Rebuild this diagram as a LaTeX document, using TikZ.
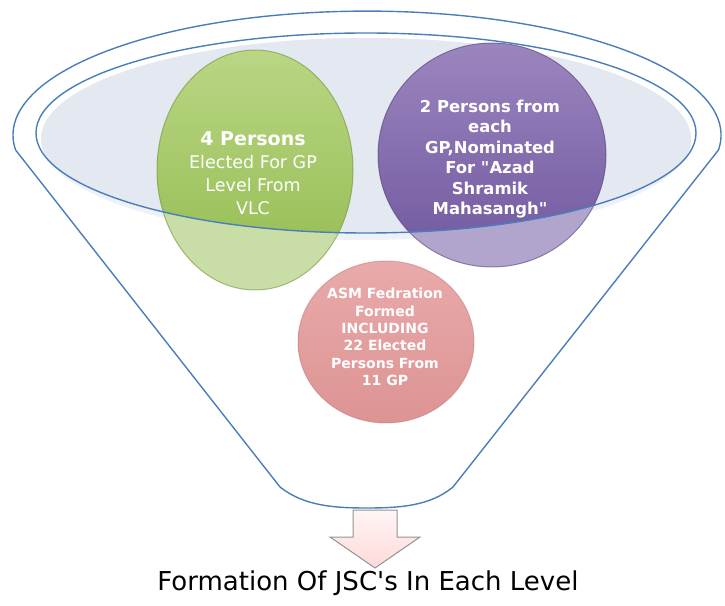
\documentclass[tikz,border=0pt]{standalone}
\usepackage{fontspec}
\setsansfont{DejaVu Sans}
\usepackage{xcolor}
\usepackage{tikz}

\definecolor{funnelblue}{HTML}{4A7EBB}
\definecolor{bowlgray}{HTML}{EEF2F8}
\definecolor{bowlinner}{HTML}{E3E8F1}
\definecolor{vlcgreen}{HTML}{A8CC66}
\definecolor{vlcgreendark}{HTML}{92BA4E}
\definecolor{vlcgreenlite}{HTML}{C9DDA6}
\definecolor{asmpurple}{HTML}{8A70B3}
\definecolor{asmpurpledark}{HTML}{6F579E}
\definecolor{asmpurplelite}{HTML}{B2A5CD}
\definecolor{fedpink}{HTML}{E9AAAA}
\definecolor{fedpinkdark}{HTML}{DD9393}

\tikzset{
  funnel/.style={draw=funnelblue, line width=1.4pt},
  bubbletext/.style={text=white, align=center, font=\sffamily\bfseries},
}

\begin{document}
\begin{tikzpicture}[x=1pt, y=1pt]
\useasboundingbox (0,0) rectangle (725,605);

% bowl of the funnel
\fill[bowlgray] (366,466) ellipse [x radius=325pt, y radius=101pt];
\begin{scope}
  \clip (366,466) ellipse [x radius=325pt, y radius=101pt];
  \fill[bowlinner] (366,472) ellipse [x radius=330pt, y radius=100pt];
\end{scope}

% green and purple bubbles, darker inside the bowl
\fill[vlcgreenlite] (255,435) ellipse [x radius=98pt, y radius=120pt];
\fill[asmpurplelite] (492,450) ellipse [x radius=114pt, y radius=112pt];
\begin{scope}
  \clip (366,472) ellipse [x radius=330pt, y radius=100pt];
  \shade[top color=vlcgreen!80!white, bottom color=vlcgreendark] (255,435) ellipse [x radius=98pt, y radius=120pt];
  \shade[top color=asmpurple!85!white, bottom color=asmpurpledark] (492,450) ellipse [x radius=114pt, y radius=112pt];
\end{scope}
\draw[vlcgreendark!80!black, line width=1pt, opacity=0.6] (255,435) ellipse [x radius=98pt, y radius=120pt];
\draw[asmpurpledark!80!black, line width=1pt, opacity=0.6] (492,450) ellipse [x radius=114pt, y radius=112pt];

% pink bubble
\shade[top color=fedpink, bottom color=fedpinkdark] (386,263) ellipse [x radius=88pt, y radius=81pt];
\draw[fedpinkdark!85!black, line width=1pt, opacity=0.5] (386,263) ellipse [x radius=88pt, y radius=81pt];

% funnel outline
\draw[funnel] (366,472) ellipse [x radius=330pt, y radius=100pt];
\draw[funnel] (15.6,455) arc[start angle=186.9, end angle=-6.9, x radius=354pt, y radius=124pt]
  -- (453,118) .. controls (430,99) and (400,97) .. (367,97)
  .. controls (334,97) and (304,99) .. (280,118) -- cycle;

\node[bubbletext, font=\sffamily\mdseries\fontsize{17.5}{23}\selectfont] (vlc) at (253,432)
  {{\bfseries\fontsize{19}{23}\selectfont 4 Persons}\\Elected For GP\\Level From\\VLC};
\node[bubbletext, font=\sffamily\bfseries\fontsize{16.4}{20.5}\selectfont] (asm) at (490,446)
  {2 Persons from\\each\\GP,Nominated\\For \textquotedbl Azad\\Shramik\\Mahasangh\textquotedbl};
\node[bubbletext, font=\sffamily\bfseries\fontsize{14}{17.3}\selectfont] (fed) at (385,268)
  {ASM Fedration\\Formed\\INCLUDING\\22 Elected\\Persons From\\11 GP};

% down arrow
\shade[top color=white!85!pink, bottom color=pink!60!white, draw=gray!85, line width=1pt]
  (353,95) -- (397,95) -- (397,68) -- (420,68) -- (375,37) -- (330,68) -- (353,68) -- cycle;

\node[font=\sffamily\fontsize{26}{30}\selectfont] (jsc) at (368,22) {Formation Of JSC\textquotesingle s In Each Level};
\end{tikzpicture}
\end{document}
